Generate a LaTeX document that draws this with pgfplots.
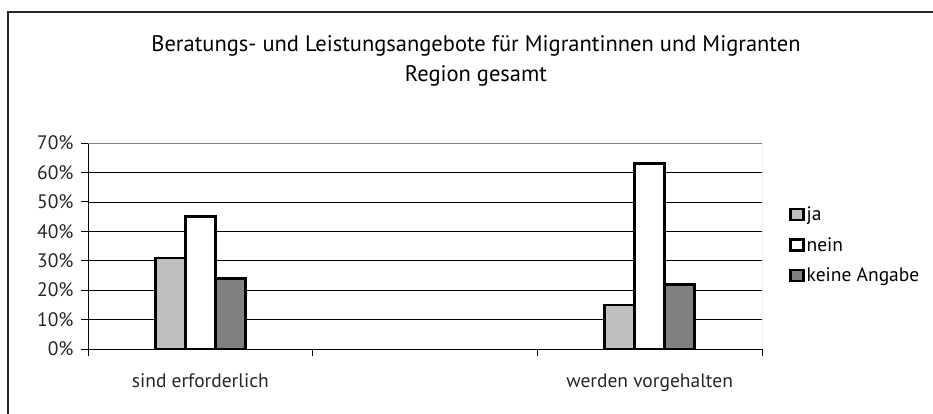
\documentclass[border=0pt]{standalone}
\usepackage{pgfplots}
\pgfplotsset{compat=1.18}
\usepackage{fontspec}
\setmainfont{PT Sans}
\begin{document}
\begin{tikzpicture}[x=1pt,y=1pt]
\useasboundingbox (0,0) rectangle (933,-414);
\draw[line width=1.2pt, black!85] (8,-414) -- (8,-12) -- (933,-12);
\node[font=\fontsize{22.5}{26}\selectfont, anchor=base] at (476,-52) {Beratungs- und Leistungsangebote für Migrantinnen und Migranten};
\node[font=\fontsize{22.5}{26}\selectfont, anchor=base] at (476,-82) {Region gesamt};
\begin{axis}[
  at={(88pt,-349pt)}, anchor=south west,
  scale only axis, width=674pt, height=206pt,
  xmin=0.5, xmax=3.5, ymin=0, ymax=70,
  ybar=0pt, bar width=0.1335,
  axis x line*=bottom, axis y line*=left,
  axis line style={-, black, line width=1pt},
  tick align=outside, major tick length=7pt,
  tick style={black, line width=1pt},
  /pgf/number format/assume math mode=true,
  ytick={0,10,...,70},
  yticklabel={\pgfmathprintnumber{\tick}\%},
  yticklabel style={xshift=-4pt},
  ymajorgrids, grid style={black, line width=0.6pt},
  xtick={0.5,1.5,2.5,3.5}, xticklabels={},
  extra x ticks={1,3},
  extra x tick labels={sind erforderlich, werden vorgehalten},
  extra x tick style={major tick length=0pt, grid=none, tick label style={yshift=-21pt}},
  tick label style={font=\fontsize{19.5}{22}\selectfont, text=black!85},
  legend style={at={(1.04,0.70)}, anchor=north west, draw=none, fill=none,
    font=\fontsize{19.5}{22}\selectfont, row sep=11pt, inner sep=0pt},
  legend cell align=left,
]
\addplot[fill=black!25, draw=black, line width=2.5pt,
  legend image code/.code={\draw[fill=black!25, draw=black, line width=2.5pt] (0pt,-5.5pt) rectangle (13pt,5.5pt);}]
  coordinates {(1,31) (3,15)};
\addplot[fill=white, draw=black, line width=2.5pt,
  legend image code/.code={\draw[fill=white, draw=black, line width=2.5pt] (0pt,-5.5pt) rectangle (13pt,5.5pt);}]
  coordinates {(1,45) (3,63)};
\addplot[fill=black!50, draw=black, line width=2.5pt,
  legend image code/.code={\draw[fill=black!50, draw=black, line width=2.5pt] (0pt,-5.5pt) rectangle (13pt,5.5pt);}]
  coordinates {(1,24) (3,22)};
\legend{ja,nein,keine Angabe}
\draw[gray, line width=1pt] (rel axis cs:0,1) -- (rel axis cs:1,1) -- (rel axis cs:1,0);
\end{axis}
\end{tikzpicture}
\end{document}
